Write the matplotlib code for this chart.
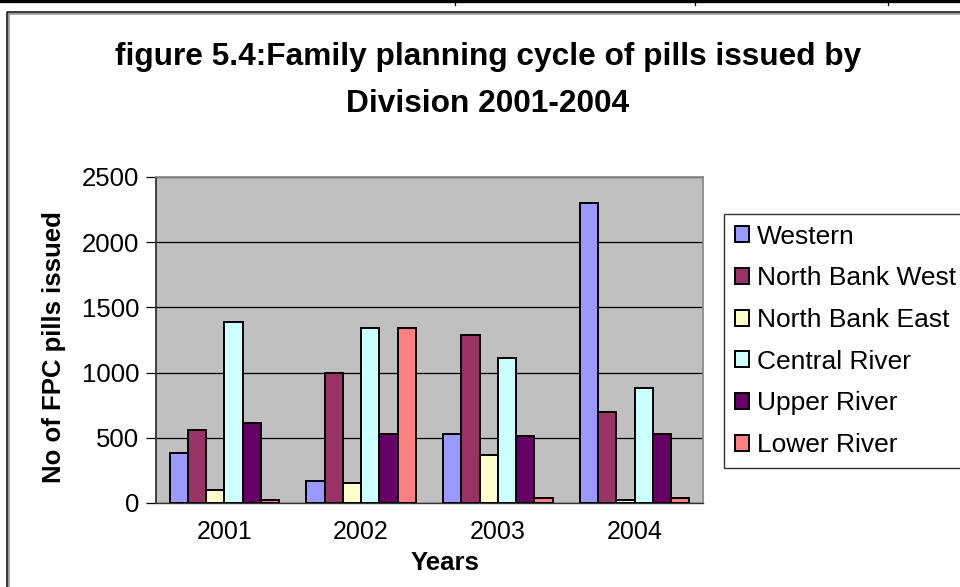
import matplotlib
matplotlib.use("Agg")
import matplotlib.pyplot as plt
from matplotlib.lines import Line2D
import numpy as np

plt.rcParams["font.family"] = ["Liberation Sans", "DejaVu Sans"]

# FPC pill cycles issued, by division and year
years = ["2001", "2002", "2003", "2004"]
divisions = ["Western", "North Bank West", "North Bank East",
             "Central River", "Upper River", "Lower River"]
western = [380, 165, 530, 2300]
north_bank_west = [560, 1000, 1285, 700]
north_bank_east = [100, 150, 365, 25]
central_river = [1390, 1345, 1115, 885]
upper_river = [610, 530, 515, 530]
lower_river = [25, 1345, 40, 40]
series = [western, north_bank_west, north_bank_east,
          central_river, upper_river, lower_river]
colors = ["#9999FF", "#993366", "#FFFFCC", "#CCFFFF", "#660066", "#FF8080"]
y_ticks = [0, 500, 1000, 1500, 2000, 2500]

W, H = 960, 587
fig = plt.figure(figsize=(W / 100, H / 100), dpi=100)
fig.patch.set_facecolor("white")

def fx(px):
    return px / W

def fy(py):
    return 1 - py / H

# page rule at the very top with small column marks
fig.add_artist(Line2D([0, 1], [fy(1.2), fy(1.2)], color="black", lw=2.4,
                      transform=fig.transFigure))
for xm in (455, 695, 888):
    fig.add_artist(Line2D([fx(xm), fx(xm)], [fy(0), fy(5)], color="black",
                          lw=0.9, transform=fig.transFigure))

# chart frame (left and top edges)
fig.add_artist(Line2D([fx(7.5), fx(7.5), 1.0], [0.0, fy(12.5), fy(12.5)],
                      color="#9a9a9a", lw=2.6, transform=fig.transFigure))
fig.add_artist(Line2D([fx(7), fx(7), 1.0], [0.0, fy(12), fy(12)],
                      color="#202020", lw=1.1, transform=fig.transFigure))

ax = fig.add_axes([fx(156), fy(503), fx(703) - fx(156), fy(177) - fy(503)])
ax.set_facecolor("#C0C0C0")

x = np.arange(len(years))
width = 1 / 7.5
for i, (vals, name, col) in enumerate(zip(series, divisions, colors)):
    ax.bar(x + (i - 2.5) * width, vals, width, color=col, edgecolor="black",
           linewidth=1.4, label=name, zorder=3)

ax.set_xlim(-0.5, 3.5)
ax.set_ylim(0, 2500)
ax.set_yticks(y_ticks)
ax.set_yticklabels([str(v) for v in y_ticks])
ax.set_xticks(x)
ax.set_xticklabels(years)
ax.yaxis.grid(True, color="black", lw=0.9, zorder=1)
ax.set_axisbelow(True)

ax.tick_params(axis="y", direction="out", length=7, width=0.9, pad=5,
               labelsize=18.5, colors="black")
ax.tick_params(axis="x", length=0, pad=12, labelsize=18)

for side in ("top", "right"):
    ax.spines[side].set_color("#8c8c8c")
    ax.spines[side].set_linewidth(1.3)
ax.spines["left"].set_color("#333333")
ax.spines["left"].set_linewidth(1.3)
ax.spines["bottom"].set_color("#333333")
ax.spines["bottom"].set_linewidth(1.0)

# titles and axis labels
fig.text(fx(488), fy(57), "figure 5.4:Family planning cycle of pills issued by",
         ha="center", va="center", fontsize=22.8, fontweight="bold")
fig.text(fx(488), fy(104), "Division 2001-2004",
         ha="center", va="center", fontsize=22.8, fontweight="bold")
fig.text(fx(54), fy(347), "No of FPC pills issued", rotation=90,
         ha="center", va="center", fontsize=18.5, fontweight="bold")
fig.text(fx(445), fy(563), "Years", ha="center", va="center",
         fontsize=18.5, fontweight="bold")

leg = fig.legend(loc="upper left", bbox_to_anchor=(fx(724), fy(214)),
                 borderaxespad=0, frameon=True, fancybox=False,
                 fontsize=19, handlelength=0.55, handleheight=0.55,
                 handletextpad=0.3, labelspacing=0.67, borderpad=0.4)
leg.get_frame().set_edgecolor("black")
leg.get_frame().set_linewidth(1.0)

fig.savefig("out.png", dpi=100)
